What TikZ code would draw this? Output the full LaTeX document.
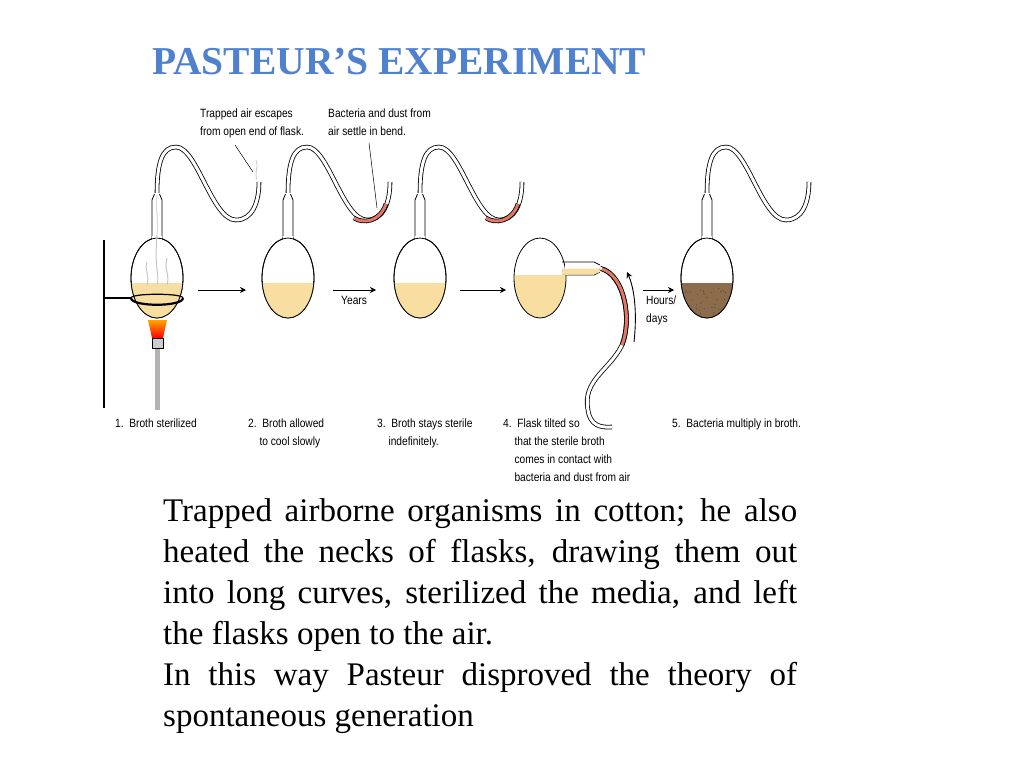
\documentclass[tikz,border=0pt]{standalone}
\usepackage{fontspec}
\setmainfont{Liberation Serif}
\newfontfamily\lab[FakeStretch=0.85]{Liberation Sans}
\usetikzlibrary{arrows.meta}
\definecolor{broth}{RGB}{248,222,160}
\definecolor{mud}{RGB}{140,108,74}
\definecolor{dust}{RGB}{226,120,100}
\definecolor{ttl}{RGB}{79,129,206}
\tikzset{
 tube/.style={line width=0.8pt,double=white,double distance=3pt},
 redtube/.style={line width=0.8pt,double=dust,double distance=3pt},
 glass/.style={draw,line width=0.8pt,fill=white},
 lbl/.style={font=\lab\fontsize{12}{18}\selectfont,align=left,anchor=north west,inner sep=0pt},
 arr/.style={-{Stealth[length=6pt,width=6pt]},line width=0.9pt},
 flask/.pic={
  \draw[tube] (0,-84) .. controls (0,-115) and (5,-131) .. (19,-131) .. controls (40,-131) and (55,-58) .. (79,-58) .. controls (95,-58) and (102,-75) .. (102,-96);
  \fill[white] (-5,-85) rectangle (5,-30);
  \draw[line width=0.8pt] (-5,-36) -- (-5,-78) -- (-2.5,-84) (5,-36) -- (5,-78) -- (2.5,-84);
  \draw[glass] (0,0) ellipse (26 and 40);
  \fill[white] (-4.6,-42) rectangle (4.6,-36);
 }
}
\begin{document}
\begin{tikzpicture}[x=1pt,y=-1pt]
\useasboundingbox[fill=white] (0,0) rectangle (1024,768);
\node[font=\bfseries\fontsize{39.5}{42}\selectfont,text=ttl,anchor=west,inner sep=0pt] (title) at (152,62) {PASTEUR’S EXPERIMENT};
% stand
\draw[line width=2.5pt] (104,240) -- (104,408);
\draw[line width=2.5pt] (104,298) -- (131,298);
% burner
\fill[gray!60] (155,348) rectangle (160,410);
\draw[fill=gray!40] (152,338) rectangle (163,348);
\shade[top color=orange!70!yellow,bottom color=red] (148,320) -- (167,320) -- (163,338) -- (152,338) -- cycle;
% flasks
\foreach \cx in {157,288,420,707} \pic at (\cx,278) {flask};
% liquids
\foreach \cx in {157,288,420}{
 \begin{scope}
  \clip (\cx,278) ellipse (26 and 40);
  \fill[broth] (\cx-30,283) rectangle (\cx+30,320);
 \end{scope}
 \draw[line width=0.8pt] (\cx,278) ellipse (26 and 40);
}
\begin{scope}
 \clip (707,278) ellipse (26 and 40);
 \fill[mud] (677,283) rectangle (737,320);
 \pgfmathsetseed{7}
 \foreach \i in {1,...,45}{
  \pgfmathsetmacro\px{685+rnd*44}\pgfmathsetmacro\py{287+rnd*28}
  \fill[black!70] (\px,\py) circle (0.6);
 }
\end{scope}
\draw[line width=0.8pt] (707,278) ellipse (26 and 40);
% ring clamp
\draw[line width=2.2pt] (131,298) .. controls (131,307) and (183,307) .. (183,298);
\draw[line width=1.2pt] (131,298) .. controls (131,293) and (183,293) .. (183,298);
% steam
\foreach \dx/\h in {-10/262,0/235,10/258}{
 \draw[gray!45,line width=1pt] (157+\dx,285) .. controls (160+\dx,275) and (154+\dx,270) .. (157+\dx,\h);
}
\draw[gray!30,line width=1pt] (157,235) .. controls (159,220) and (155,210) .. (157,195);
% red bends
\foreach \cx in {288,420}{
 \draw[redtube] (\cx+66,-60+278) .. controls (\cx+75,-54+278) and (\cx+92,-56+278) .. (\cx+98,-74+278);
}
% flask 4
\draw[tube] (600,268) .. controls (625,275) and (632,320) .. (622,345) .. controls (610,370) and (582,380) .. (588,410) .. controls (590,425) and (600,428) .. (612,427);
\draw[redtube] (602,269) .. controls (625,276) and (632,320) .. (622,345);
\fill[white] (560,262) rectangle (598,275);
\draw[line width=0.8pt] (562,262) -- (594,262) -- (600,265) (562,275) -- (594,275) -- (600,272);
\begin{scope}
 \clip (540,278) ellipse (26 and 40);
 \fill[broth] (510,275) rectangle (570,320);
\end{scope}
\fill[broth] (562,268.5) -- (594,268.5) -- (599.5,268.5) -- (600,272) -- (594,274.5) -- (562,274.5) -- cycle;
\draw[line width=0.8pt] (540,278) ellipse (26 and 40);
\fill[white] (565,262.5) rectangle (568,274.5);
\fill[broth] (565,268.5) rectangle (568,274.5);
\draw[arr] (634,342) .. controls (637,315) and (635,290) .. (627,272);
% arrows
\coordinate (a1) at (198,290); \coordinate (b1) at (246,290);
\coordinate (a2) at (333,290); \coordinate (b2) at (376,290);
\coordinate (a3) at (460,290); \coordinate (b3) at (506,290);
\coordinate (a4) at (643,290); \coordinate (b4) at (674,290);
\draw[arr] (a1) -- (b1); \draw[arr] (a2) -- (b2); \draw[arr] (a3) -- (b3); \draw[arr] (a4) -- (b4);
\node[lbl] (yrs) at (341,296) {Years};
\node[lbl] (hrs) at (646,296) {Hours/\\days};
% annotations
\node[lbl] (ann1) at (200,109) {Trapped air escapes\\from open end of flask.};
\node[lbl] (ann2) at (328,109) {Bacteria and dust from\\air settle in bend.};
\coordinate (p1) at (253,172); \coordinate (p2) at (377,208);
\draw[line width=0.5pt] (235,145) -- (p1);
\draw[line width=0.5pt] (369,143) -- (p2);
\draw[gray!40,line width=0.8pt] (257,180) .. controls (254,172) and (259,168) .. (256,160);
% captions
\node[lbl] (c1) at (115,419) {1.\ \ Broth sterilized};
\node[lbl] (c2) at (248,419) {2.\ \ Broth allowed\\\ \ \ \ to cool slowly};
\node[lbl] (c3) at (377,419) {3.\ \ Broth stays sterile\\\ \ \ \ indefinitely.};
\node[lbl] (c4) at (503,419) {4.\ \ Flask tilted so\\\ \ \ \ that the sterile broth\\\ \ \ \ comes in contact with\\\ \ \ \ bacteria and dust from air};
\node[lbl] (c5) at (672,419) {5.\ \ Bacteria multiply in broth.};
% body
\node[anchor=north west,inner sep=0pt,text width=634pt,align=justify,font=\fontsize{33}{41}\selectfont] (body) at (163,498)
{Trapped airborne organisms in cotton; he also\linebreak heated the necks of flasks, drawing them out\linebreak into long curves, sterilized the media, and left\linebreak the flasks open to the air.\\In this way Pasteur disproved the theory of\linebreak spontaneous generation};
\end{tikzpicture}
\end{document}
